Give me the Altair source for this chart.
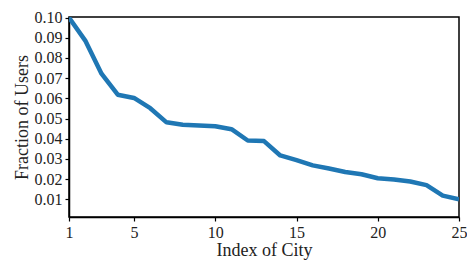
import altair as alt
import pandas as pd

city_index = list(range(1, 26))
fraction = [0.1000, 0.0886, 0.0722, 0.0618, 0.0602, 0.0551, 0.0481, 0.0469,
            0.0465, 0.0462, 0.0447, 0.0391, 0.0388, 0.0317, 0.0294, 0.0268,
            0.0252, 0.0235, 0.0224, 0.0204, 0.0198, 0.0188, 0.0170, 0.0118,
            0.0100]
x_ticks = [1, 5, 10, 15, 20, 25]
y_ticks = [0.01, 0.02, 0.03, 0.04, 0.05, 0.06, 0.07, 0.08, 0.09, 0.10]

df = pd.DataFrame({"city": city_index, "frac": fraction})

FONT = "Liberation Serif"

chart = alt.Chart(df).mark_line(
    color="#1f77b4", strokeWidth=4.5, clip=True, strokeJoin="round"
).encode(
    x=alt.X("city:Q",
            scale=alt.Scale(domain=[1, 25], nice=False, zero=False),
            axis=alt.Axis(values=x_ticks, title="Index of City", format="d",
                          titleY=33, titleBaseline="middle", labelFlush=False)),
    y=alt.Y("frac:Q",
            scale=alt.Scale(domain=[0.0012, 0.1003], nice=False, zero=False),
            axis=alt.Axis(values=y_ticks, title="Fraction of Users", format=".2f",
                          titleX=-47, titleBaseline="middle", labelFlush=False)),
).properties(
    width=390, height=200,
    autosize=alt.AutoSizeParams(type="none"),
    padding={"left": 61, "top": 9, "right": 8, "bottom": 43},
).configure_view(
    stroke="black", strokeWidth=1.5
).configure_axis(
    grid=False,
    domainColor="black", domainWidth=1.5,
    tickColor="black", tickWidth=1.2, tickSize=4,
    labelFont=FONT, labelFontSize=16, labelColor="#222", labelPadding=3,
    titleFont=FONT, titleFontSize=18, titleFontWeight="normal", titleColor="#222",
    labelOverlap=False,
)

chart.save("out.html", embed_options={"renderer": "svg", "actions": False})
